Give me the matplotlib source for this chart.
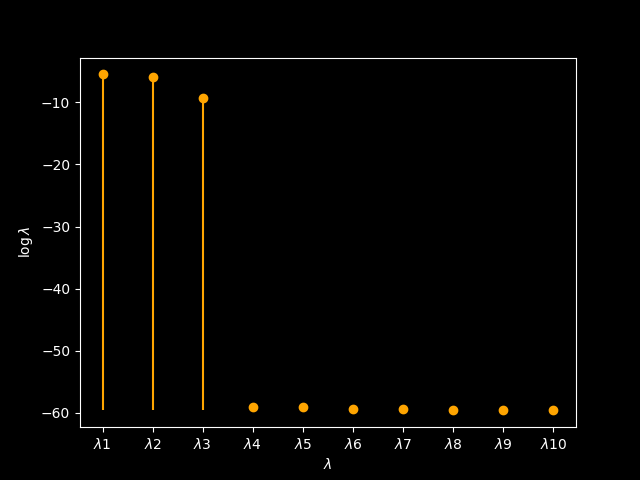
import numpy as np
import matplotlib
matplotlib.use('Agg')
import matplotlib.pyplot as plt

plt.style.use('dark_background')

# data
labels = [r'$\lambda$%d' % i for i in range(1, 11)]
log_vals = [-5.49, -5.97, -9.36, -59.13, -59.13, -59.45, -59.45, -59.61, -59.61, -59.61]
base = -59.52

x = np.arange(1, 11)
fig, ax = plt.subplots(figsize=(6.4, 4.8), dpi=100)
markers, stems, baseline = ax.stem(x, log_vals, bottom=base, basefmt=' ')
plt.setp(markers, color='orange')
plt.setp(stems, color='orange')

ax.set_xticks(x)
ax.set_xticklabels(labels)
ax.set_xlabel(r'$\lambda$')
ax.set_ylabel(r'$\log\lambda$')

plt.savefig('out.png')
